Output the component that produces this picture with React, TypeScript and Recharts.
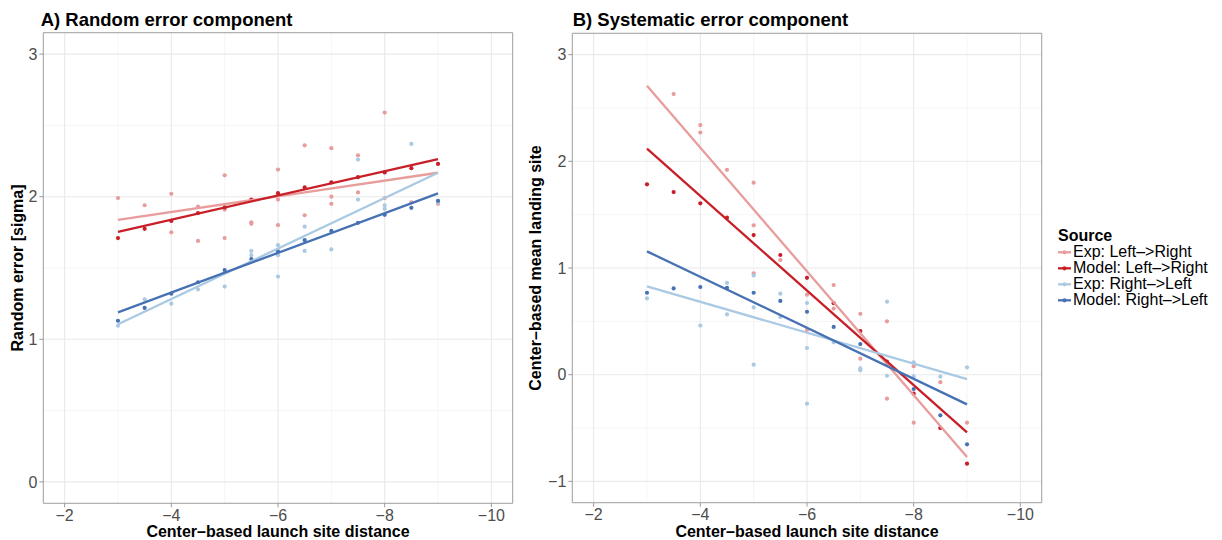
import React from 'react';
import {
  ScatterChart,
  Scatter,
  XAxis,
  YAxis,
  CartesianGrid,
  ReferenceArea,
  Label,
} from 'recharts';

const FONT = '"Liberation Sans", Arial, Helvetica, sans-serif';

type Pt = { x: number; y: number };

// Series (legend order) and colours
const seriesNames = [
  'Exp: Left\u2013>Right',
  'Model: Left\u2013>Right',
  'Exp: Right\u2013>Left',
  'Model: Right\u2013>Left',
];
const seriesColors = ['#e89c9c', '#c81e27', '#aac9e2', '#4671b3'];

// Axis ticks
const xTicks = [-2, -4, -6, -8, -10];
const xMinor = [-3, -5, -7, -9];
const xDomain: [number, number] = [-10.4, -1.6];

const randomYTicks = [0, 1, 2, 3];
const randomYMinor = [0.5, 1.5, 2.5];
const randomYDomain: [number, number] = [-0.15, 3.15];

const systematicYTicks = [-1, 0, 1, 2, 3];
const systematicYMinor = [-0.5, 0.5, 1.5, 2.5];
const systematicYDomain: [number, number] = [-1.2, 3.2];

// ---------- A) Random error component ----------
const randomExpLR: Pt[] = [
  { x: -3, y: 1.99 },
  { x: -3.5, y: 1.94 },
  { x: -4, y: 2.02 }, { x: -4, y: 1.75 },
  { x: -4.5, y: 1.93 }, { x: -4.5, y: 1.69 },
  { x: -5, y: 2.15 }, { x: -5, y: 1.91 }, { x: -5, y: 1.71 },
  { x: -5.5, y: 1.82 }, { x: -5.5, y: 1.81 },
  { x: -6, y: 2.19 }, { x: -6, y: 1.98 }, { x: -6, y: 1.8 },
  { x: -6.5, y: 2.36 }, { x: -6.5, y: 1.87 },
  { x: -7, y: 2.34 }, { x: -7, y: 2.0 }, { x: -7, y: 1.95 },
  { x: -7.5, y: 2.29 }, { x: -7.5, y: 2.03 },
  { x: -8, y: 2.59 }, { x: -8, y: 1.99 },
  { x: -8.5, y: 1.96 },
  { x: -9, y: 1.95 },
];
const randomModelLR: Pt[] = [
  { x: -3, y: 1.71 }, { x: -3.5, y: 1.775 }, { x: -4, y: 1.83 },
  { x: -4.5, y: 1.885 }, { x: -5, y: 1.925 }, { x: -5.5, y: 1.98 },
  { x: -6, y: 2.025 }, { x: -6.5, y: 2.065 }, { x: -7, y: 2.1 },
  { x: -7.5, y: 2.137 }, { x: -8, y: 2.17 }, { x: -8.5, y: 2.2 },
  { x: -9, y: 2.23 },
];
const randomExpRL: Pt[] = [
  { x: -3, y: 1.095 },
  { x: -3.5, y: 1.28 },
  { x: -4, y: 1.25 },
  { x: -4.5, y: 1.35 },
  { x: -5, y: 1.47 }, { x: -5, y: 1.37 },
  { x: -5.5, y: 1.62 }, { x: -5.5, y: 1.59 },
  { x: -6, y: 1.66 }, { x: -6, y: 1.59 }, { x: -6, y: 1.44 },
  { x: -6.5, y: 1.79 }, { x: -6.5, y: 1.69 }, { x: -6.5, y: 1.62 },
  { x: -7, y: 1.63 },
  { x: -7.5, y: 2.26 }, { x: -7.5, y: 1.98 },
  { x: -8, y: 1.94 }, { x: -8, y: 1.915 },
  { x: -8.5, y: 2.37 },
  { x: -9, y: 1.96 },
];
const randomModelRL: Pt[] = [
  { x: -3, y: 1.13 }, { x: -3.5, y: 1.22 }, { x: -4, y: 1.32 },
  { x: -4.5, y: 1.4 }, { x: -5, y: 1.486 }, { x: -5.5, y: 1.563 },
  { x: -6, y: 1.617 }, { x: -6.5, y: 1.696 }, { x: -7, y: 1.76 },
  { x: -7.5, y: 1.817 }, { x: -8, y: 1.873 }, { x: -8.5, y: 1.922 },
  { x: -9, y: 1.971 },
];
// fitted lines (end points)
const randomFitExpLR: Pt[] = [{ x: -3, y: 1.838 }, { x: -9, y: 2.168 }];
const randomFitModelLR: Pt[] = [{ x: -3, y: 1.754 }, { x: -9, y: 2.264 }];
const randomFitExpRL: Pt[] = [{ x: -3, y: 1.105 }, { x: -9, y: 2.168 }];
const randomFitModelRL: Pt[] = [{ x: -3, y: 1.189 }, { x: -9, y: 2.023 }];

// ---------- B) Systematic error component ----------
const systematicExpLR: Pt[] = [
  { x: -3.5, y: 2.63 },
  { x: -4, y: 2.34 }, { x: -4, y: 2.27 },
  { x: -4.5, y: 1.92 },
  { x: -5, y: 1.8 }, { x: -5, y: 1.4 }, { x: -5, y: 0.95 },
  { x: -5.5, y: 1.075 },
  { x: -6, y: 0.75 }, { x: -6, y: 0.42 },
  { x: -6.5, y: 0.84 }, { x: -6.5, y: 0.62 },
  { x: -7, y: 0.57 }, { x: -7, y: 0.15 },
  { x: -7.5, y: 0.5 }, { x: -7.5, y: -0.225 },
  { x: -8, y: 0.08 }, { x: -8, y: -0.45 },
  { x: -8.5, y: -0.07 }, { x: -8.5, y: -0.5 },
  { x: -9, y: -0.45 },
];
const systematicModelLR: Pt[] = [
  { x: -3, y: 1.784 }, { x: -3.5, y: 1.712 }, { x: -4, y: 1.606 },
  { x: -4.5, y: 1.472 }, { x: -5, y: 1.309 }, { x: -5.5, y: 1.122 },
  { x: -6, y: 0.908 }, { x: -6.5, y: 0.67 }, { x: -7, y: 0.409 },
  { x: -7.5, y: 0.122 }, { x: -8, y: -0.178 }, { x: -8.5, y: -0.5 },
  { x: -9, y: -0.834 },
];
const systematicExpRL: Pt[] = [
  { x: -3, y: 0.715 },
  { x: -4, y: 0.46 },
  { x: -4.5, y: 0.86 }, { x: -4.5, y: 0.565 },
  { x: -5, y: 0.93 }, { x: -5, y: 0.63 }, { x: -5, y: 0.094 },
  { x: -5.5, y: 0.759 }, { x: -5.5, y: 0.541 },
  { x: -6, y: 0.672 }, { x: -6, y: 0.25 }, { x: -6, y: -0.272 },
  { x: -6.5, y: 0.303 },
  { x: -7, y: 0.059 }, { x: -7, y: 0.041 },
  { x: -7.5, y: 0.684 }, { x: -7.5, y: -0.01 },
  { x: -8, y: 0.116 }, { x: -8, y: -0.016 },
  { x: -8.5, y: -0.019 },
  { x: -9, y: 0.069 },
];
const systematicModelRL: Pt[] = [
  { x: -3, y: 0.768 }, { x: -3.5, y: 0.809 }, { x: -4, y: 0.822 },
  { x: -4.5, y: 0.815 }, { x: -5, y: 0.768 }, { x: -5.5, y: 0.691 },
  { x: -6, y: 0.59 }, { x: -6.5, y: 0.448 }, { x: -7, y: 0.287 },
  { x: -7.5, y: 0.11 }, { x: -8, y: -0.134 }, { x: -8.5, y: -0.381 },
  { x: -9, y: -0.653 },
];
const systematicFitExpLR: Pt[] = [{ x: -3, y: 2.709 }, { x: -9, y: -0.772 }];
const systematicFitModelLR: Pt[] = [{ x: -3, y: 2.118 }, { x: -9, y: -0.541 }];
const systematicFitExpRL: Pt[] = [{ x: -3, y: 0.828 }, { x: -9, y: -0.041 }];
const systematicFitModelRL: Pt[] = [{ x: -3, y: 1.156 }, { x: -9, y: -0.278 }];

const minus = (v: number) => (v < 0 ? `\u2212${Math.abs(v)}` : `${v}`);

const tickStyle = { fontSize: 16, fill: '#4d4d4d', fontFamily: FONT };
const tickLine = { stroke: '#9a9a9a' };

const dot = (color: string) => (p: any) =>
  p && p.cx != null ? <circle cx={p.cx} cy={p.cy} r={2.1} fill={color} /> : <g />;
const noShape = () => <g />;

type PanelProps = {
  width: number;
  margin: { top: number; right: number; bottom: number; left: number };
  yAxisWidth: number;
  yDomain: [number, number];
  yTicks: number[];
  yMinor: number[];
  yTitle: string;
  yTitleX: number;
  points: Pt[][];
  fits: Pt[][];
};

function Panel({ width, margin, yAxisWidth, yDomain, yTicks, yMinor, yTitle, yTitleX, points, fits }: PanelProps) {
  return (
    <ScatterChart width={width} height={540} margin={margin} style={{ fontFamily: FONT }}>
      <CartesianGrid
        stroke="#f3f3f3"
        strokeWidth={0.8}
        horizontalValues={yMinor}
        verticalValues={xMinor}
      />
      <CartesianGrid stroke="#e9e9e9" strokeWidth={1.1} />
      <XAxis
        type="number"
        dataKey="x"
        domain={xDomain}
        reversed
        ticks={xTicks}
        allowDataOverflow
        tickFormatter={minus}
        tick={tickStyle}
        tickLine={tickLine}
        tickSize={4}
        axisLine={false}
        height={36}
      >
        <Label
          content={(p: any) => {
            const vb = p.viewBox || {};
            const cx = vb.x + vb.width / 2;
            return (
              <text
                x={cx}
                y={537}
                textAnchor="middle"
                fontSize={16}
                fontWeight="bold"
                fontFamily={FONT}
                fill="#000"
              >
                Center{'\u2013'}based launch site distance
              </text>
            );
          }}
        />
      </XAxis>
      <YAxis
        type="number"
        dataKey="y"
        domain={yDomain}
        ticks={yTicks}
        allowDataOverflow
        tickFormatter={minus}
        tick={tickStyle}
        tickLine={tickLine}
        tickSize={4}
        axisLine={false}
        width={yAxisWidth}
      >
        <Label
          content={(p: any) => {
            const vb = p.viewBox || {};
            const cy = vb.y + vb.height / 2;
            return (
              <text
                x={yTitleX}
                y={cy}
                transform={`rotate(-90, ${yTitleX}, ${cy})`}
                textAnchor="middle"
                fontSize={16}
                fontWeight="bold"
                fontFamily={FONT}
                fill="#000"
              >
                {yTitle}
              </text>
            );
          }}
        />
      </YAxis>
      {points.map((d, i) => (
        <Scatter
          key={`pts-${i}`}
          data={d}
          fill={seriesColors[i]}
          shape={dot(seriesColors[i])}
          isAnimationActive={false}
        />
      ))}
      {fits.map((d, i) => (
        <Scatter
          key={`fit-${i}`}
          data={d}
          line={{ stroke: seriesColors[i], strokeWidth: 2.3 }}
          lineType="joint"
          shape={noShape}
          isAnimationActive={false}
        />
      ))}
      <ReferenceArea
        x1={xDomain[0]}
        x2={xDomain[1]}
        y1={yDomain[0]}
        y2={yDomain[1]}
        fill="none"
        stroke="#a3a3a3"
        strokeWidth={1}
        ifOverflow="visible"
      />
    </ScatterChart>
  );
}

export default function App() {
  return (
    <div
      style={{
        position: 'absolute',
        left: 0,
        top: 0,
        width: 1222,
        height: 540,
        background: '#fff',
        fontFamily: FONT,
      }}
    >
      <div style={{ position: 'absolute', left: 0, top: 0 }}>
        <Panel
          width={520}
          margin={{ top: 32.7, right: 7.3, bottom: 0.7, left: 0 }}
          yAxisWidth={43.3}
          yDomain={randomYDomain}
          yTicks={randomYTicks}
          yMinor={randomYMinor}
          yTitle="Random error [sigma]"
          yTitleX={23}
          points={[randomExpLR, randomModelLR, randomExpRL, randomModelRL]}
          fits={[randomFitExpLR, randomFitModelLR, randomFitExpRL, randomFitModelRL]}
        />
      </div>
      <div style={{ position: 'absolute', left: 520, top: 0 }}>
        <Panel
          width={525}
          margin={{ top: 33.3, right: 3.3, bottom: 1.3, left: 0 }}
          yAxisWidth={52.3}
          yDomain={systematicYDomain}
          yTicks={systematicYTicks}
          yMinor={systematicYMinor}
          yTitle={'Center\u2013based mean landing site'}
          yTitleX={20.7}
          points={[systematicExpLR, systematicModelLR, systematicExpRL, systematicModelRL]}
          fits={[systematicFitExpLR, systematicFitModelLR, systematicFitExpRL, systematicFitModelRL]}
        />
      </div>
      <svg
        width={1222}
        height={540}
        style={{ position: 'absolute', left: 0, top: 0, pointerEvents: 'none' }}
      >
        <text x={40.7} y={26} fontSize={18.5} fontWeight="bold" fontFamily={FONT} fill="#000">
          A) Random error component
        </text>
        <text x={572.7} y={26} fontSize={18.5} fontWeight="bold" fontFamily={FONT} fill="#000">
          B) Systematic error component
        </text>
        <text x={1058} y={240.7} fontSize={16} fontWeight="bold" fontFamily={FONT} fill="#000">
          Source
        </text>
        {seriesNames.map((name, i) => {
          const cy = 252.3 + i * 16;
          return (
            <g key={name}>
              <line x1={1058} x2={1071} y1={cy} y2={cy} stroke={seriesColors[i]} strokeWidth={2.3} />
              <circle cx={1064.5} cy={cy} r={2.1} fill={seriesColors[i]} />
              <text x={1073} y={cy + 4.6} fontSize={16} fontFamily={FONT} fill="#000">
                {name}
              </text>
            </g>
          );
        })}
      </svg>
    </div>
  );
}
